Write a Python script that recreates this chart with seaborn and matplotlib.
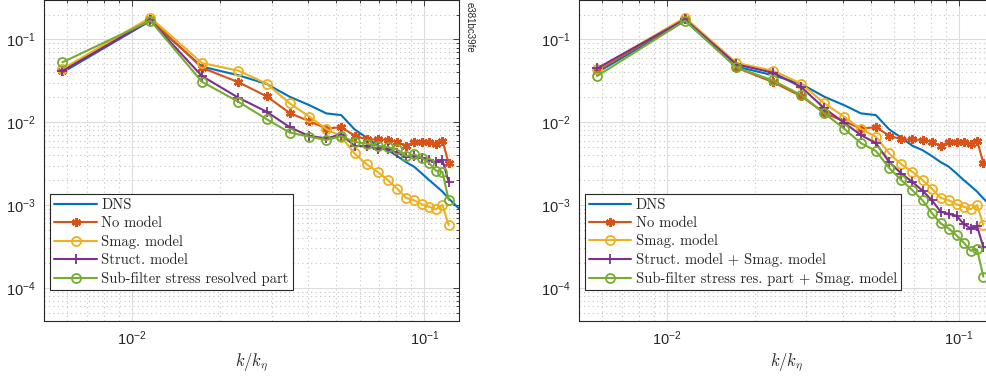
import numpy as np
import pandas as pd
import matplotlib
matplotlib.use("Agg")
import matplotlib.pyplot as plt
import matplotlib.ticker as mticker
import seaborn as sns

# --- data (shared k grid, DNS longer) ---
k = [0.00577, 0.01154, 0.01731, 0.02308, 0.02885, 0.03462, 0.04039, 0.04616,
     0.05193, 0.0577, 0.06347, 0.06924, 0.07501, 0.08078, 0.08655, 0.09232,
     0.09809, 0.10386, 0.10963, 0.1154, 0.12117]
k_dns = k + [0.12694, 0.13271]

dns = [0.040, 0.168, 0.047, 0.037, 0.029, 0.0203, 0.0161, 0.0128, 0.0122,
       0.0082, 0.0065, 0.0052, 0.0046, 0.0039, 0.0033, 0.0029, 0.0024, 0.0020,
       0.0017, 0.00145, 0.0012, 0.00102, 0.00088]
no_model = [0.042, 0.178, 0.0456, 0.0305, 0.0206, 0.0129, 0.0103, 0.0084,
            0.0087, 0.0069, 0.0062, 0.0062, 0.0061, 0.0058, 0.0052, 0.0058,
            0.0058, 0.0057, 0.0055, 0.0060, 0.0032]
smag = [0.044, 0.184, 0.052, 0.042, 0.0293, 0.0169, 0.0117, 0.0083, 0.0067,
        0.0042, 0.0031, 0.00252, 0.0020, 0.00157, 0.00122, 0.00114, 0.00102,
        0.00095, 0.00089, 0.00100, 0.00057]
struct = [0.0416, 0.170, 0.0362, 0.0198, 0.0134, 0.0087, 0.0068, 0.0064,
          0.0071, 0.0052, 0.0051, 0.0048, 0.0047, 0.0043, 0.0038, 0.0039,
          0.0037, 0.0035, 0.0033, 0.0035, 0.0019]
sfs = [0.053, 0.169, 0.0309, 0.0177, 0.0109, 0.0075, 0.0067, 0.0061, 0.0068,
       0.0058, 0.0055, 0.0052, 0.0050, 0.0047, 0.0039, 0.0041, 0.0037, 0.0032,
       0.0026, 0.0025, 0.00115]
struct_smag = [0.0448, 0.175, 0.050, 0.0397, 0.0266, 0.0147, 0.0099, 0.0070,
               0.0056, 0.0033, 0.0024, 0.0019, 0.00149, 0.00114, 0.00083,
               0.00078, 0.00074, 0.00059, 0.00052, 0.00055, 0.00031]
sfs_smag = [0.0362, 0.169, 0.046, 0.032, 0.0213, 0.0128, 0.0084, 0.0056,
            0.0045, 0.0028, 0.0020, 0.00151, 0.00114, 0.00080, 0.00060,
            0.00052, 0.00043, 0.00035, 0.00028, 0.00029, 0.000136]

labels_left = ["DNS", "No model", "Smag. model", "Struct. model",
               "Sub-filter stress resolved part"]
labels_right = ["DNS", "No model", "Smag. model",
                "Struct. model + Smag. model",
                "Sub-filter stress res. part + Smag. model"]

# MATLAB default colours
c_blue, c_red, c_yel, c_pur, c_grn = "#0072BD", "#D95319", "#EDB120", "#7E2F8E", "#77AC30"

sns.set_style("white")
plt.rcParams["font.family"] = ["Liberation Sans", "DejaVu Sans"]
plt.rcParams["mathtext.fontset"] = "cm"
plt.rcParams["axes.unicode_minus"] = True

fig = plt.figure(figsize=(9.87, 3.78), dpi=100)
ax_l = fig.add_axes([0.0449, 0.1516, 0.4202, 0.8484])
ax_r = fig.add_axes([0.5866, 0.1516, 0.4202, 0.8484])


def draw(ax, y4, y5, labels):
    ax.set_xscale("log")
    ax.set_yscale("log")
    sns.lineplot(x=k_dns, y=dns, ax=ax, color=c_blue, lw=1.5, label=labels[0])
    sns.lineplot(x=k, y=no_model, ax=ax, color=c_red, lw=1.5, marker=(6, 2, 0),
                 ms=6.5, mec=c_red, mew=1.8, label=labels[1])
    sns.lineplot(x=k, y=smag, ax=ax, color=c_yel, lw=1.5, marker="o", ms=6.5,
                 mfc="none", mec=c_yel, mew=1.3, label=labels[2])
    sns.lineplot(x=k, y=y4, ax=ax, color=c_pur, lw=1.5, marker="+", ms=7,
                 mec=c_pur, mew=1.3, label=labels[3])
    sns.lineplot(x=k, y=y5, ax=ax, color=c_grn, lw=1.5, marker="o", ms=6.5,
                 mfc="none", mec=c_grn, mew=1.3, label=labels[4])

    ax.set_xlim(0.005, 0.1315)
    ax.set_ylim(4e-5, 0.3)
    ax.xaxis.set_major_locator(mticker.LogLocator(base=10))
    ax.xaxis.set_minor_locator(mticker.LogLocator(base=10, subs=np.arange(2, 10)))
    ax.yaxis.set_minor_locator(mticker.LogLocator(base=10, subs=np.arange(2, 10)))
    ax.xaxis.set_minor_formatter(mticker.NullFormatter())
    ax.yaxis.set_minor_formatter(mticker.NullFormatter())

    ax.grid(True, which="major", color="#dcdcdc", lw=0.8, ls="-")
    ax.grid(True, which="minor", color="#c4c4c4", lw=0.8, ls=(0, (1, 3)))
    ax.set_axisbelow(True)
    for s in ax.spines.values():
        s.set_color("#262626")
        s.set_linewidth(0.8)
    ax.tick_params(which="both", direction="in", top=True, right=True,
                   colors="#262626", labelsize=10.5, width=0.6)
    ax.tick_params(which="major", length=4, pad=6)
    ax.tick_params(which="minor", length=2)
    ax.set_xlabel(r"$k/k_\eta$", fontsize=12, color="#262626", labelpad=3)
    ax.set_ylabel("")

    leg = ax.legend(loc="lower left", bbox_to_anchor=(0.0137, 0.0957),
                    borderaxespad=0, prop={"family": "cmr10", "size": 10.5},
                    fancybox=False, framealpha=1, edgecolor="#262626",
                    handlelength=2.9, handletextpad=0.3, labelspacing=0.3,
                    borderpad=0.3)
    leg.get_frame().set_linewidth(0.8)


draw(ax_l, struct, sfs, labels_left)
draw(ax_r, struct_smag, sfs_smag, labels_right)

fig.text(470 / 987, 1 - 2 / 378, "e381bc39fe", rotation=-90, ha="center",
         va="top", fontsize=7, color="#262626")

fig.savefig("out.png", dpi=100)
